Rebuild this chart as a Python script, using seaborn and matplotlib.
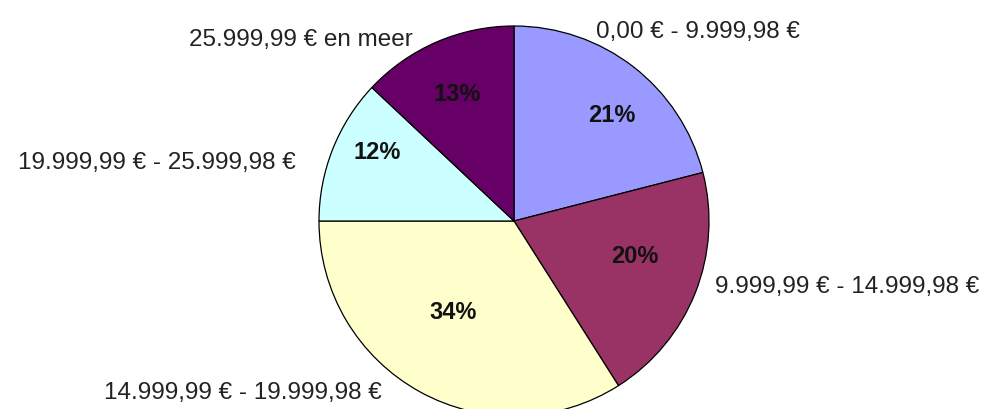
import matplotlib
matplotlib.use("Agg")
import matplotlib.pyplot as plt
import seaborn as sns

# income brackets, clockwise from 12 o'clock
categories = ["0,00 € - 9.999,98 €", "9.999,99 € - 14.999,98 €",
              "14.999,99 € - 19.999,98 €", "19.999,99 € - 25.999,98 €",
              "25.999,99 € en meer"]
shares = [21, 20, 34, 12, 13]
colors = ["#9999FF", "#993366", "#FFFFCC", "#CCFFFF", "#660066"]

# label placement (pie radius = 1)
pct_pos = [(0.50, 0.54), (0.62, -0.18), (-0.31, -0.47), (-0.70, 0.35), (-0.29, 0.65)]
lab_pos = [(0.42, 0.97, "left"), (1.03, -0.34, "left"), (-0.68, -0.88, "right"),
           (-1.12, 0.30, "right"), (-0.52, 0.93, "right")]

sns.set_theme(style="white")
plt.rcParams["font.family"] = ["Liberation Sans", "DejaVu Sans"]

fig = plt.figure(figsize=(9.91, 4.09), dpi=100)
ax = fig.add_axes([0, 0, 1, 1])

wedges, texts, autotexts = ax.pie(
    shares, colors=colors, startangle=90, counterclock=False,
    autopct="%d%%", wedgeprops=dict(edgecolor="black", linewidth=0.9),
    textprops=dict(fontsize=17, fontweight="bold", color="#111111"))

for t, (x, y) in zip(autotexts, pct_pos):
    t.set_position((x, y))

for lab, (x, y, ha) in zip(categories, lab_pos):
    ax.text(x, y, lab, ha=ha, va="center", fontsize=17.5, color="#222222")

r = 195
cx, cy = 514, 221
ax.set_aspect("auto")
ax.set_xlim(-cx / r, (991 - cx) / r)
ax.set_ylim(-(409 - cy) / r, cy / r)
ax.axis("off")

fig.savefig("out.png", dpi=100)
